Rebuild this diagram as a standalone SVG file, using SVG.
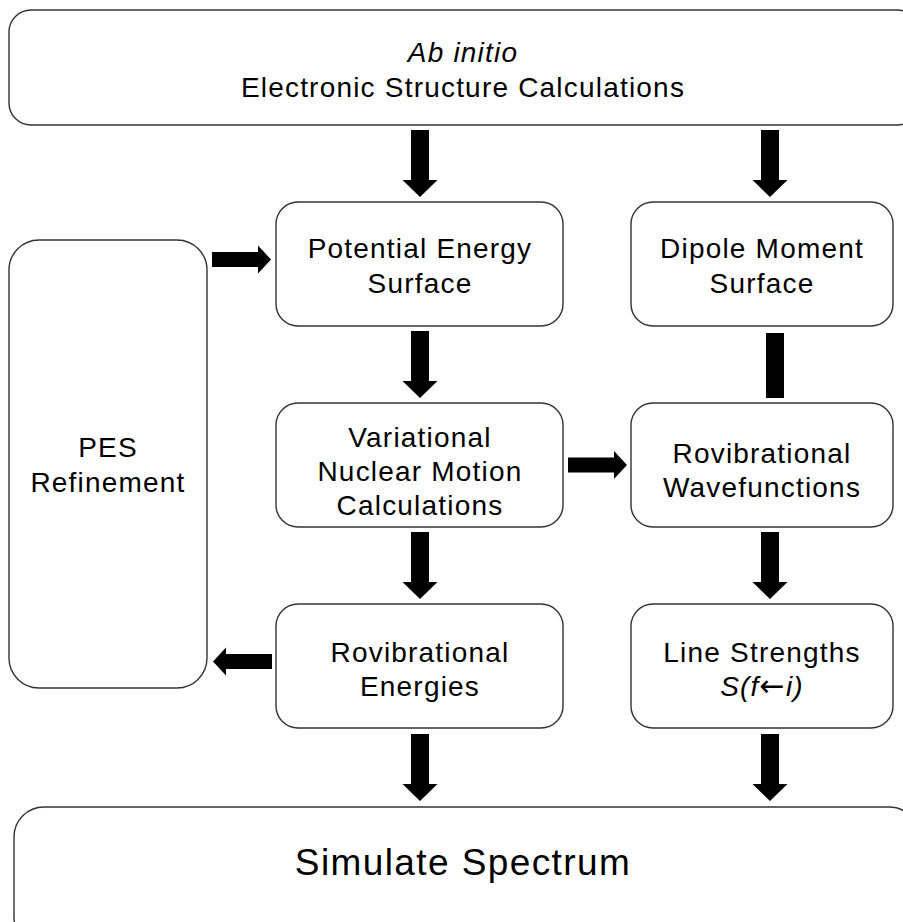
<svg xmlns="http://www.w3.org/2000/svg" width="903" height="922" viewBox="0 0 903 922">
<style>
.box{fill:#fff;stroke:#333;stroke-width:1.4}
.t{font-family:"Liberation Sans",Arial,sans-serif;font-size:28px;letter-spacing:1.2px;fill:#000;text-anchor:middle}
.i{font-style:italic}
.ar{fill:#000}
</style>
<defs>
<polygon id="down" points="-9,0 9,0 9,50 17.5,50 0,67 -17.5,50 -9,50"/>
<polygon id="right" points="0,-7.5 46,-7.5 46,-14 59,0 46,14 46,7.5 0,7.5"/>
</defs>
<rect width="903" height="922" fill="#fff"/>
<g id="abinitio">
<rect class="box" x="9" y="10" width="910" height="115" rx="22"/>
<text class="t i" x="463" y="62">Ab initio</text>
<text class="t" x="463" y="97">Electronic Structure Calculations</text>
</g>
<g id="pes">
<rect class="box" x="276" y="202" width="287" height="124" rx="22"/>
<text class="t" x="420" y="258">Potential Energy</text>
<text class="t" x="420" y="293">Surface</text>
</g>
<g id="dms">
<rect class="box" x="631" y="202" width="262" height="124" rx="22"/>
<text class="t" x="762" y="258">Dipole Moment</text>
<text class="t" x="762" y="293">Surface</text>
</g>
<g id="refinement">
<rect class="box" x="9" y="240" width="198" height="448" rx="30"/>
<text class="t" x="108" y="457">PES</text>
<text class="t" x="108" y="492">Refinement</text>
</g>
<g id="variational">
<rect class="box" x="276" y="403" width="287" height="124" rx="22"/>
<text class="t" x="420" y="447">Variational</text>
<text class="t" x="420" y="481">Nuclear Motion</text>
<text class="t" x="420" y="515">Calculations</text>
</g>
<g id="wavefunctions">
<rect class="box" x="631" y="403" width="262" height="124" rx="22"/>
<text class="t" x="762" y="463">Rovibrational</text>
<text class="t" x="762" y="497">Wavefunctions</text>
</g>
<g id="energies">
<rect class="box" x="276" y="604" width="287" height="124" rx="22"/>
<text class="t" x="420" y="662">Rovibrational</text>
<text class="t" x="420" y="696">Energies</text>
</g>
<g id="linestrengths">
<rect class="box" x="631" y="604" width="262" height="124" rx="22"/>
<text class="t" x="762" y="662">Line Strengths</text>
<text class="t i" x="762" y="696">S(f<tspan style="font-family:'DejaVu Sans',sans-serif;font-style:normal;font-size:30px">←</tspan>i)</text>
</g>
<g id="spectrum">
<rect class="box" x="14" y="807" width="905" height="140" rx="30"/>
<text class="t" x="463" y="875" style="font-size:37px;letter-spacing:1.4px">Simulate Spectrum</text>
</g>
<g id="connectors" class="ar">
<use href="#down" x="420" y="130"/>
<use href="#down" x="770" y="130"/>
<use href="#down" x="420" y="331"/>
<use href="#down" x="420" y="532"/>
<use href="#down" x="770" y="532"/>
<use href="#down" x="420" y="734"/>
<use href="#down" x="770" y="734"/>
<rect x="766" y="333" width="18" height="65"/>
<use href="#right" x="212" y="259.5"/>
<use href="#right" x="568" y="465"/>
<use href="#right" transform="translate(272,661.5) scale(-1,1)"/>
</g>
</svg>
